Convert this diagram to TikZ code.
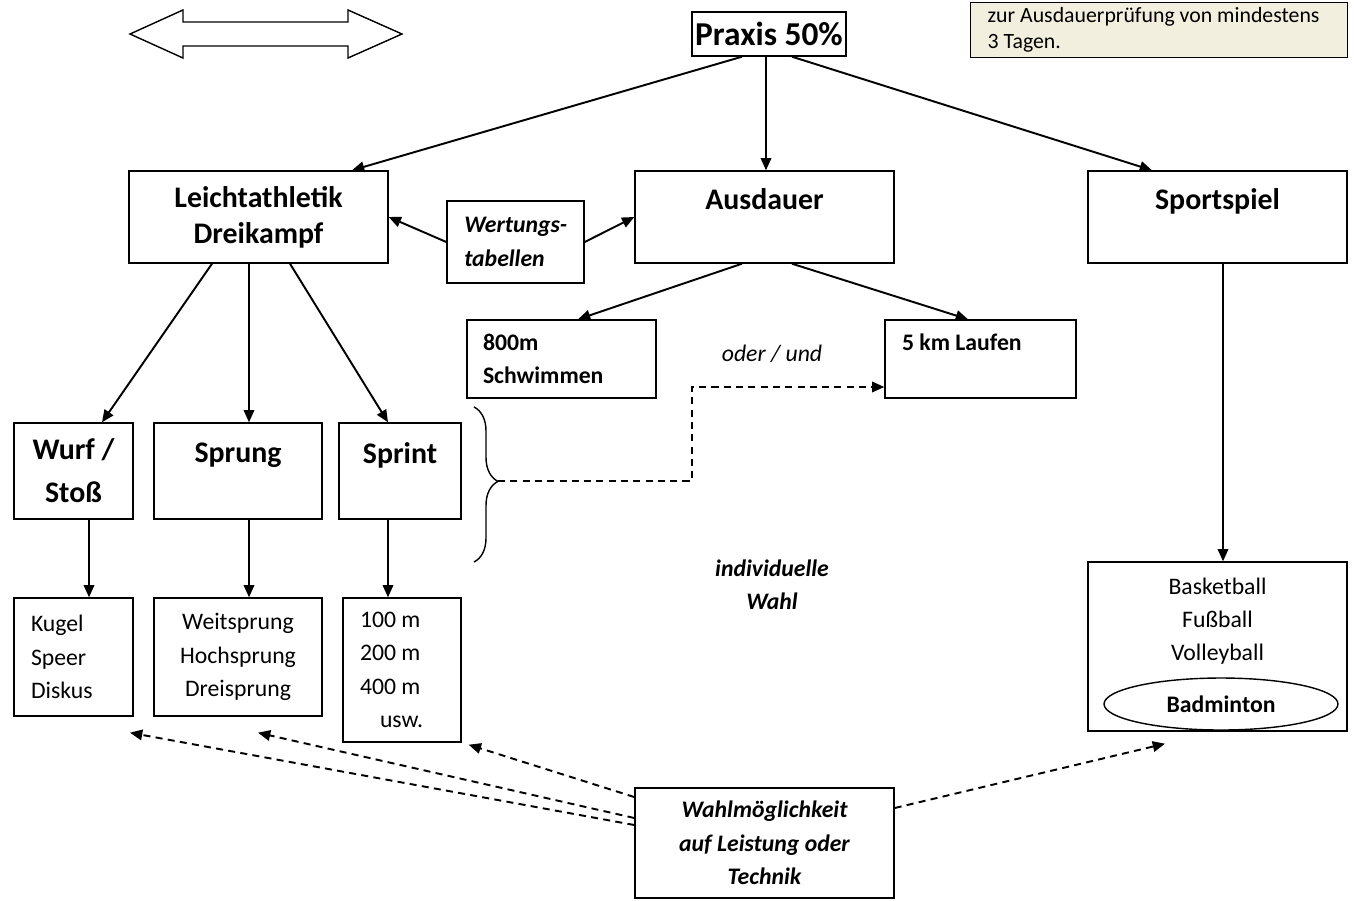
\documentclass[tikz,border=0pt]{standalone}
\usepackage{fontspec}
\setmainfont{Carlito}
\usetikzlibrary{arrows.meta,decorations.pathreplacing,shapes.geometric}
\definecolor{hinweis}{RGB}{243,239,222}

\begin{document}
\begin{tikzpicture}[x=0.02cm,y=-0.02cm,
  box/.style={draw,line width=0.8pt,inner sep=0pt},
  gross/.style={font=\fontsize{17}{20.4}\selectfont\bfseries,align=center},
  klein/.style={font=\fontsize{13.5}{19}\selectfont},
  fett/.style={font=\fontsize{13.5}{19}\selectfont\bfseries},
  kursiv/.style={font=\fontsize{13.5}{19}\selectfont\bfseries\itshape},
  pfeil/.style={-{Triangle[length=7pt,width=6pt]},line width=1.1pt},
  strich/.style={pfeil,dash pattern=on 4pt off 3pt}]
\useasboundingbox (0,0) rectangle (1354,900);

\draw[line width=0.8pt] (130,34) -- (183,10) -- (183,22) -- (348,22) -- (348,10) -- (402,34) -- (348,58) -- (348,46) -- (183,46) -- (183,58) -- cycle;

\node[box,fill=hinweis,font=\fontsize{12.4}{15.3}\selectfont,anchor=south west,minimum width=7.54cm,minimum height=1.1cm,text width=6.86cm,align=flush left] (hinweis) at (970,58) {zur Ausdauerprüfung von mindestens\\3 Tagen.};

\node[box,font=\fontsize{19}{23}\selectfont\bfseries,minimum width=3.08cm,minimum height=0.88cm] (praxis) at (769,34) {Praxis 50\%};

\node[box,gross,minimum width=5.18cm,minimum height=1.84cm] (leicht) at (258.5,217) {Leichtathletik\\Dreikampf};
\node[box,gross,minimum width=5.18cm,minimum height=1.84cm] (aus) at (764.5,217) {Ausdauer\\\mbox{}};
\node[box,gross,minimum width=5.18cm,minimum height=1.84cm] (sport) at (1217.5,217) {Sportspiel\\\mbox{}};
\node[box,kursiv,minimum width=2.74cm,minimum height=1.64cm,text width=2.05cm,align=flush left] (wertung) at (515.5,242) {\mbox{Wertungs-}\\tabellen};

\node[box,fett,minimum width=3.78cm,minimum height=1.56cm,text width=3.14cm,align=flush left] (schwimm) at (561.5,359) {800m\\Schwimmen};
\node[box,fett,minimum width=3.82cm,minimum height=1.56cm,text width=3.14cm,align=flush left] (lauf) at (980.5,359) {5 km Laufen\\\mbox{}};
\node[font=\fontsize{13.5}{19}\selectfont\itshape] (oder) at (772,354) {oder / und};

\node[box,gross,minimum width=2.38cm,minimum height=1.92cm] (wurf) at (73.5,471) {Wurf /\\[4pt]Stoß};
\node[box,gross,minimum width=3.36cm,minimum height=1.92cm] (sprung) at (238,471) {Sprung\\\mbox{}};
\node[box,gross,minimum width=2.44cm,minimum height=1.92cm] (sprint) at (400,471) {Sprint\\\mbox{}};

\node[box,klein,minimum width=2.38cm,minimum height=2.36cm,text width=1.7cm,align=flush left] (kugel) at (73.5,657) {Kugel\\Speer\\Diskus};
\node[box,klein,minimum width=3.36cm,minimum height=2.36cm,align=center] (weit) at (238,657) {Weitsprung\\Hochsprung\\Dreisprung};
\node[box,klein,minimum width=2.36cm,minimum height=2.88cm,text width=1.68cm,align=flush left] (lauf100) at (402,670) {100 m\\200 m\\400 m\\\hspace*{0.4cm}usw.};

\node[box,klein,minimum width=5.18cm,minimum height=3.38cm,align=center] (spiele) at (1217.5,646.5) {Basketball\\Fußball\\Volleyball\\[0.42cm]\mbox{}};
\node[draw,ellipse,line width=0.8pt,fett,minimum width=4.68cm,minimum height=1.04cm,inner sep=0pt] (badminton) at (1221,704) {Badminton};

\node[kursiv,align=center] (wahl) at (772,585) {individuelle\\Wahl};
\node[box,kursiv,minimum width=5.18cm,minimum height=2.2cm,align=center] (moeglich) at (764.5,843) {Wahlmöglichkeit\\auf Leistung oder\\Technik};

\draw[pfeil] ([xshift=-0.54cm]praxis.south) -- ([xshift=1.87cm]leicht.north);
\draw[pfeil] ([xshift=-0.06cm]praxis.south) -- ([xshift=0.03cm]aus.north);
\draw[pfeil] ([xshift=0.46cm]praxis.south) -- ([xshift=-1.31cm]sport.north);
\draw[pfeil] (wertung.west) -- (leicht.east);
\draw[pfeil] (wertung.east) -- (aus.west);
\draw[pfeil] ([xshift=-0.45cm]aus.south) -- ([xshift=0.33cm]schwimm.north);
\draw[pfeil] ([xshift=0.55cm]aus.south) -- ([xshift=-0.25cm]lauf.north);
\draw[pfeil] ([xshift=-0.93cm]leicht.south) -- ([xshift=0.57cm]wurf.north);
\draw[pfeil] ([xshift=-0.19cm]leicht.south) -- ([xshift=0.22cm]sprung.north);
\draw[pfeil] ([xshift=0.63cm]leicht.south) -- ([xshift=-0.24cm]sprint.north);
\draw[pfeil] ([xshift=0.31cm]wurf.south) -- ([xshift=0.31cm]kugel.north);
\draw[pfeil] ([xshift=0.22cm]sprung.south) -- ([xshift=0.22cm]weit.north);
\draw[pfeil] ([xshift=-0.24cm]sprint.south) -- ([xshift=-0.28cm]lauf100.north);
\draw[pfeil] ([xshift=0.11cm]sport.south) -- ([xshift=0.11cm]spiele.north);

\draw[line width=0.8pt,decorate,decoration={brace,amplitude=0.48cm,aspect=0.48}] (474,407) -- (474,562);
\coordinate (klammer) at (498,481);
\coordinate (knick) at (692,481);
\draw[strich] (klammer) -- (knick) |- ([yshift=-0.56cm]lauf.west);

\draw[strich] ([yshift=0.36cm]moeglich.west) -- ([xshift=1.13cm,yshift=-0.32cm]kugel.south);
\draw[strich] ([yshift=0.5cm]moeglich.west) -- ([xshift=0.4cm,yshift=-0.32cm]weit.south);
\draw[strich] ([yshift=0.92cm]moeglich.west) -- ([xshift=0.14cm,yshift=-0.04cm]lauf100.south east);
\draw[strich] ([yshift=0.7cm]moeglich.east) -- ([xshift=-1.05cm,yshift=-0.24cm]spiele.south);
\end{tikzpicture}
\end{document}
